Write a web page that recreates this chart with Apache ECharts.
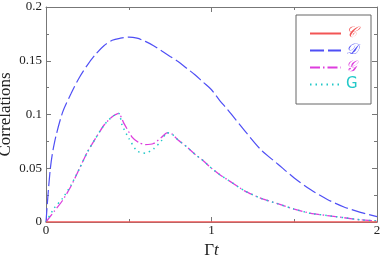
<!DOCTYPE html>
<html><head><meta charset="utf-8">
<script src="https://cdn.jsdelivr.net/npm/echarts@6/dist/echarts.min.js"></script>
<style>html,body{margin:0;padding:0;background:#fff}#c{width:382px;height:256px}</style>
</head><body><div id="c"></div>
<script>
var xTicks = ['0', '1', '2'];
var yTicks = ['0', '0.05', '0.1', '0.15', '0.2'];
var names = ['𝒞', '𝒟', '𝒢', 'G'];

var tC = [0, 2];
var cVals = [0, 0];

var tD = [0, 0.025, 0.05, 0.1, 0.15, 0.2, 0.25, 0.3, 0.35, 0.4, 0.45, 0.5, 0.55, 0.6, 0.65, 0.7, 0.75, 0.8, 0.85, 0.9, 0.95, 1.0, 1.05, 1.1, 1.2, 1.3, 1.4, 1.5, 1.6, 1.7, 1.8, 1.9, 2.0];
var dVals = [0, 0.048, 0.073, 0.102, 0.119, 0.134, 0.146, 0.156, 0.164, 0.169, 0.171, 0.172, 0.171, 0.168, 0.164, 0.159, 0.154, 0.149, 0.143, 0.137, 0.130, 0.123, 0.113, 0.104, 0.085, 0.067, 0.054, 0.041, 0.030, 0.021, 0.014, 0.009, 0.005];

var tG = [0, 0.05, 0.1, 0.15, 0.2, 0.25, 0.3, 0.35, 0.4, 0.44, 0.47, 0.52, 0.56, 0.6, 0.65, 0.7, 0.73, 0.76, 0.8, 0.85, 0.9, 0.95, 1.0, 1.05, 1.1, 1.2, 1.3, 1.4, 1.5, 1.6, 1.7, 1.8, 1.9, 2.0];
var gVals = [0, 0.010, 0.020, 0.033, 0.049, 0.065, 0.078, 0.090, 0.098, 0.101, 0.092, 0.079, 0.074, 0.072, 0.073, 0.079, 0.083, 0.082, 0.076, 0.070, 0.063, 0.057, 0.050, 0.044, 0.039, 0.029, 0.022, 0.017, 0.012, 0.008, 0.006, 0.004, 0.002, 0.001];

var tGc = [0, 0.05, 0.1, 0.15, 0.2, 0.25, 0.3, 0.35, 0.4, 0.44, 0.46, 0.5, 0.55, 0.6, 0.65, 0.7, 0.73, 0.76, 0.8, 0.85, 0.9, 0.95, 1.0, 1.05, 1.1, 1.2, 1.3, 1.4, 1.5, 1.6, 1.7, 1.8, 1.9, 2.0];
var gcVals = [0, 0.013, 0.022, 0.034, 0.049, 0.065, 0.078, 0.090, 0.098, 0.101, 0.090, 0.078, 0.066, 0.064, 0.068, 0.076, 0.083, 0.082, 0.076, 0.070, 0.063, 0.057, 0.050, 0.044, 0.039, 0.029, 0.022, 0.017, 0.012, 0.008, 0.006, 0.004, 0.002, 0.001];

function pairs(t, v) { return t.map(function (x, i) { return [x, v[i]]; }); }

var colors = ['#f25555', '#4f4ff5', '#dd3ddd', '#22c8c8'];
var axisColor = '#777';
var serif = 'Liberation Serif';

var chart = echarts.init(document.getElementById('c'), null, {renderer: 'canvas'});
var baseAxis = {
  axisLine: {show: true, onZero: false, lineStyle: {color: axisColor, width: 1}},
  axisTick: {show: true, inside: true, length: 5, lineStyle: {color: axisColor}},
  minorTick: {show: true, splitNumber: 2, length: 3, lineStyle: {color: axisColor}},
  splitLine: {show: false},
  minorSplitLine: {show: false}
};
function ax(extra) { return Object.assign({}, JSON.parse(JSON.stringify(baseAxis)), extra); }

chart.setOption({
  animation: false,
  backgroundColor: '#fff',
  grid: {left: 46, right: 5, top: 7, bottom: 34, containLabel: false, outerBoundsMode: 'none'},
  xAxis: [
    ax({type: 'value', min: 0, max: 2, interval: 1, position: 'bottom',
      axisLabel: {margin: 2, fontFamily: serif, fontSize: 13, color: '#222',
        formatter: function (v) { return xTicks[Math.round(v)]; }},
      name: '{a|Γ}{b|t}', nameLocation: 'middle', nameGap: 20, nameMoveOverlap: false,
      nameTextStyle: {verticalAlign: 'top', rich: {a: {fontFamily: serif, fontSize: 17, color: '#222'}, b: {fontFamily: serif, fontStyle: 'italic', fontSize: 17, color: '#222'}}}}),
    ax({type: 'value', min: 0, max: 2, interval: 1, position: 'top', axisLabel: {show: false}})
  ],
  yAxis: [
    ax({type: 'value', min: 0, max: 0.2, interval: 0.05, position: 'left',
      axisLabel: {margin: 4, fontFamily: serif, fontSize: 13, color: '#222',
        formatter: function (v) { return yTicks[Math.round(v / 0.05)]; }},
      name: 'Correlations', nameLocation: 'middle', nameGap: 32, nameRotate: 90, nameMoveOverlap: false,
      nameTextStyle: {fontFamily: serif, fontSize: 17, color: '#222'}}),
    ax({type: 'value', min: 0, max: 0.2, interval: 0.05, position: 'right', axisLabel: {show: false}})
  ],
  legend: {
    orient: 'vertical', left: 296, top: 15,
    padding: [11, 13, 12, 13], itemGap: 2, itemWidth: 31, itemHeight: 14,
    borderColor: '#666', borderWidth: 1, backgroundColor: '#fff',
    itemStyle: {opacity: 0},
    textStyle: {fontFamily: serif, fontStyle: 'italic', fontSize: 15},
    data: names.map(function (n, i) {
      return {name: n, textStyle: {color: colors[i], fontStyle: i === 3 ? 'normal' : 'italic', fontFamily: i === 3 ? 'DejaVu Sans' : serif}};
    })
  },
  series: [
    {name: names[0], type: 'line', data: pairs(tC, cVals), symbol: 'none', color: colors[0], lineStyle: {width: 1.5, color: colors[0]}, z: 5},
    {name: names[1], type: 'line', data: pairs(tD, dVals), symbol: 'none', smooth: 0.3, color: colors[1], lineStyle: {width: 1.2, type: [14, 4], color: colors[1]}},
    {name: names[2], type: 'line', data: pairs(tG, gVals), symbol: 'none', smooth: 0.2, color: colors[2], lineStyle: {width: 1.3, type: [10, 3, 1.5, 3], color: colors[2]}},
    {name: names[3], type: 'line', data: pairs(tGc, gcVals), symbol: 'none', smooth: 0.2, color: colors[3], lineStyle: {width: 1.5, type: [1.5, 4], color: colors[3]}}
  ]
});
</script></body></html>
